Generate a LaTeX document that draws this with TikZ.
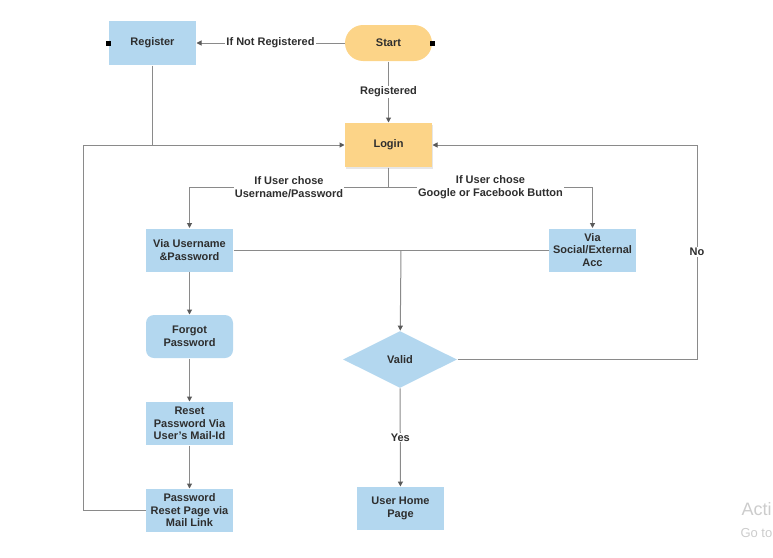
\documentclass[tikz,border=0pt]{standalone}
\usepackage{fontspec}
\setmainfont{Liberation Sans}
\usepackage{tikz}
\usetikzlibrary{shapes}
\usetikzlibrary{arrows.meta}
\usetikzlibrary{shadows}
\definecolor{boxblue}{HTML}{B3D7EF}
\definecolor{boxorange}{HTML}{FCD488}
\definecolor{linegray}{HTML}{8A8A8A}
\definecolor{tipgray}{HTML}{5A5A5A}
\definecolor{txtgray}{HTML}{2E2E2E}
\tikzstyle{proc}=[rectangle,draw=none,fill=boxblue,text=txtgray,inner sep=0mm,minimum width=87,minimum height=43,align=center]
\tikzstyle{term}=[rectangle,rounded corners=18,draw=none,fill=boxorange,text=txtgray,inner sep=0mm,minimum width=87,minimum height=36]
\tikzstyle{decision}=[diamond,draw=none,fill=boxblue,text=txtgray,inner sep=0mm,minimum width=114,minimum height=57]
\tikzstyle{lbl}=[fill=white,text=txtgray,inner sep=1pt,align=center]
\tikzstyle{link}=[draw=linegray]
\tikzstyle{arrow}=[->,>={Triangle[length=5pt,width=5pt,color=tipgray]}]
\tikzset{every picture/.style={
    line width=1
  }
}

\begin{document}
\begin{tikzpicture}[x=1pt,y=-1pt,font=\fontsize{11}{12.5}\selectfont\bfseries]
      \useasboundingbox (0,0) rectangle (773,557);
      \node[proc,minimum height=44] at (152.5,43) (register) {Register};
      \node[term] at (388.5,43) (start) {Start};
      \node[proc,fill=boxorange,minimum height=44,drop shadow={opacity=0.2,shadow xshift=1pt,shadow yshift=-1.5pt}] at (388.5,145) (login) {Login};
      \node[proc] at (189.5,250) (viauser) {Via Username\\\&Password};
      \node[proc] at (592.5,250) (viasocial) {Via\\Social/External\\Acc};
      \node[proc,rounded corners=8] at (189.5,336.5) (forgot) {Forgot\\Password};
      \node[proc] at (189.5,423.5) (reset) {Reset\\Password Via\\User's Mail-Id};
      \node[proc] at (189.5,510.5) (pwlink) {Password\\Reset Page via\\Mail Link};
      \node[decision] at (400,359.5) (valid) {Valid};
      \node[proc] at (400.5,508.5) (home) {User Home\\Page};
      \coordinate (split) at (388.5,187);
      \coordinate (join) at (401,250);
      \coordinate (loopl) at (83,145);
      \coordinate (loopr) at (697,145);
      \fill[black] (register.west) +(-2.5,-2.5) rectangle +(2.5,2.5);
      \fill[black] (start.east) +(-2.5,-2.5) rectangle +(2.5,2.5);
      \draw[link,arrow] (start) -- node[lbl] {If Not Registered} (register);
      \draw[link,arrow] (start) -- node[lbl] {Registered} (login);
      \draw[link] (register) -- (register |- login);
      \draw[link,arrow] (pwlink.west) -| (loopl) -- (login.west);
      \draw[link] (login) -- (split);
      \draw[link,arrow] (split) -| node[lbl,pos=0.25] {If User chose\\Username/Password} (viauser);
      \draw[link,arrow] (split) -| node[lbl,pos=0.25] {If User chose\\Google or Facebook Button} (viasocial);
      \draw[link] (viauser) -- (join);
      \draw[link] (viasocial) -- (join);
      \draw[link,arrow] (join) -- (valid);
      \draw[link,arrow] (viauser) -- (forgot);
      \draw[link,arrow] (forgot) -- (reset);
      \draw[link,arrow] (reset) -- (pwlink);
      \draw[link,arrow] (valid) -- node[lbl] {Yes} (home);
      \draw[link,arrow] (valid.east) -| node[lbl,pos=0.75] {No} (loopr) -- (login.east);
      \node[anchor=base west,inner sep=0,text=black!20,font=\fontsize{18}{18}\selectfont] at (741,515) (wm1) {Acti};
      \node[anchor=base west,inner sep=0,text=black!20,font=\fontsize{13}{13}\selectfont] at (740,537) (wm2) {Go to};
    \end{tikzpicture}
\end{document}
